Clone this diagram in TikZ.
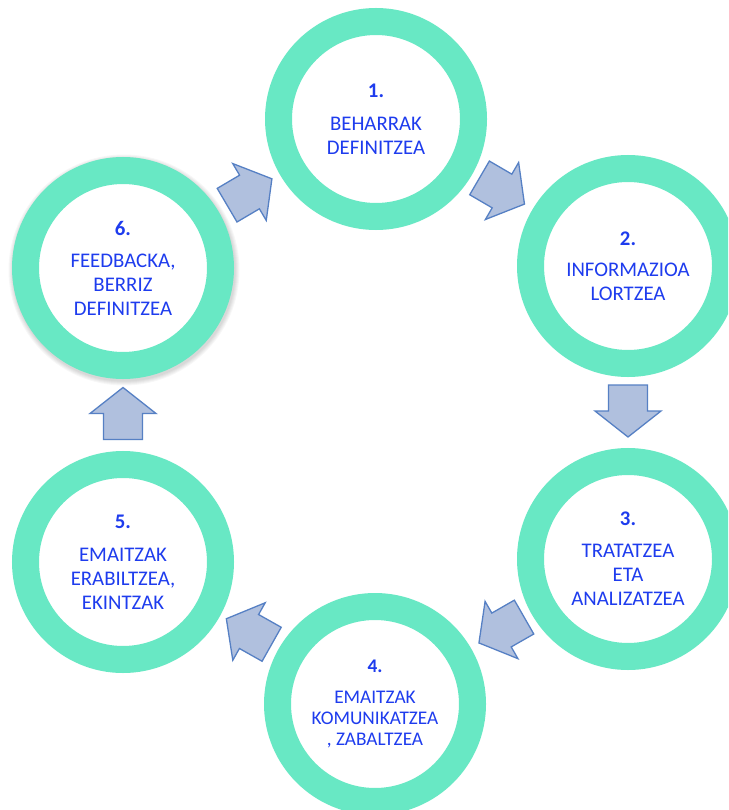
\documentclass[tikz,border=0pt]{standalone}
\usepackage{fontspec}
\setmainfont{Carlito}
\usetikzlibrary{calc,backgrounds}
\definecolor{ringc}{RGB}{104,232,196}
\definecolor{txtc}{RGB}{30,60,238}
\definecolor{arrfill}{RGB}{176,192,222}
\definecolor{arrline}{RGB}{86,128,196}
\tikzset{
  ring/.style={circle, draw=ringc, line width=27pt, minimum size=195pt, inner sep=0pt, fill=white,
    align=center, text=txtc, font=\fontsize{20.8}{24}\selectfont},
  smalltxt/.style={font=\fontsize{19.3}{21}\selectfont},
  arrowshape/.style={fill=arrfill, draw=arrline, line width=1.3pt, line join=miter},
  barrow/.pic={\draw[arrowshape] (-26pt,-19.5pt) -- (0pt,-19.5pt) -- (0pt,-33pt) -- (26pt,0pt)
      -- (0pt,33pt) -- (0pt,19.5pt) -- (-26pt,19.5pt) -- cycle;}
}
\begin{document}
\begin{tikzpicture}[x=1pt,y=-1pt]
\useasboundingbox (0,0) rectangle (728,810);
\clip (0,0) rectangle (728,810);
\fill[white] (0,0) rectangle (728,810);
% soft shadow of ring 6
\coordinate (s6) at (124,270);
\foreach \r in {111.5,112.5,113.5,114.5,115.5}
  \fill[black, opacity=0.03] (s6) circle (\r pt);
\node[ring] (r1) at (376,119) {\textbf{1.}\\[9pt]BEHARRAK\\DEFINITZEA};
\node[ring] (r2) at (628,266) {\textbf{2.}\\[7pt]INFORMAZIOA\\LORTZEA};
\node[ring] (r3) at (628,559) {\textbf{3.}\\[8pt]TRATATZEA\\ETA\\ANALIZATZEA};
\node[ring, smalltxt] (r4) at (375,704) {\textbf{4.}\\[10pt]EMAITZAK\\KOMUNIKATZEA\\, ZABALTZEA};
\node[ring] (r5) at (123,562) {\textbf{5.}\\[9pt]EMAITZAK\\ERABILTZEA,\\EKINTZAK};
\node[ring] (r6) at (123,268) {\textbf{6.}\\[8pt]FEEDBACKA,\\BERRIZ\\DEFINITZEA};
% block arrows between consecutive rings
\foreach \a/\b in {r6/r1, r1/r2, r2/r3, r3/r4, r4/r5, r5/r6}
  \path let \p1=($(\b)-(\a)$), \n1={atan2(\y1,\x1)} in
    ($(\a)!0.5!(\b)+(0,-1.5)$) pic[rotate=\n1] {barrow};
\end{tikzpicture}
\end{document}
